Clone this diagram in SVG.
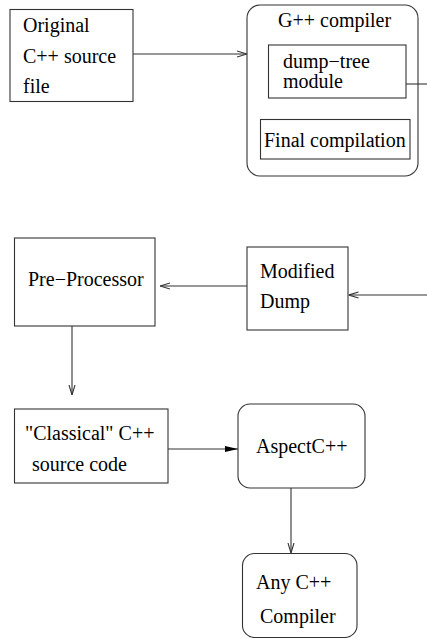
<svg xmlns="http://www.w3.org/2000/svg" width="427" height="638" viewBox="0 0 427 638">
<style>
.b{fill:#fff;stroke:#333;stroke-width:1.1}
.t{font-family:"Liberation Serif","Times New Roman",serif;font-size:20px;fill:#000}
.c{fill:none;stroke:#333;stroke-width:1.1}
</style>
<defs>
<marker id="open" viewBox="0 0 10 8" refX="10" refY="4" markerWidth="10" markerHeight="8" markerUnits="userSpaceOnUse" orient="auto">
<path d="M0,1 L10,4 L0,7" fill="none" stroke="#333" stroke-width="1.1"/>
</marker>
<marker id="fill" viewBox="0 0 13 8" refX="13" refY="4" markerWidth="13" markerHeight="8" markerUnits="userSpaceOnUse" orient="auto">
<path d="M0,1 L13,4 L0,7 Z" fill="#000"/>
</marker>
</defs>
<rect width="427" height="638" fill="#fff"/>
<g id="original">
<rect class="b" x="10" y="9.5" width="123" height="92"/>
<text class="t" x="23" y="32">Original</text>
<text class="t" x="23" y="63">C++ source</text>
<text class="t" x="23" y="93">file</text>
</g>
<g id="gpp">
<rect class="b" x="247" y="5" width="171" height="171" rx="13"/>
<text class="t" x="278" y="27">G++ compiler</text>
</g>
<g id="dumptree">
<rect class="b" x="268.5" y="45" width="137.5" height="53"/>
<text class="t" x="283" y="68">dump−tree</text>
<text class="t" x="283" y="88">module</text>
</g>
<g id="final">
<rect class="b" x="260.5" y="119.5" width="149.5" height="39.5"/>
<text class="t" x="264" y="147">Final compilation</text>
</g>
<g id="preprocessor">
<rect class="b" x="14.5" y="238" width="140.5" height="88"/>
<text class="t" x="28" y="286">Pre−Processor</text>
</g>
<g id="modified">
<rect class="b" x="247" y="247" width="101" height="83"/>
<text class="t" x="260" y="278">Modified</text>
<text class="t" x="260" y="308">Dump</text>
</g>
<g id="classical">
<rect class="b" x="14.5" y="409" width="153.5" height="74"/>
<text class="t" x="25" y="440">"Classical" C++</text>
<text class="t" x="32" y="471">source code</text>
</g>
<g id="aspectc">
<rect class="b" x="238" y="404" width="127" height="84" rx="12"/>
<text class="t" x="256" y="453">AspectC++</text>
</g>
<g id="anycpp">
<rect class="b" x="242.5" y="553.5" width="114.5" height="84" rx="12"/>
<text class="t" x="256" y="589">Any C++</text>
<text class="t" x="260" y="623">Compiler</text>
</g>
<g id="connectors">
<line class="c" x1="133" y1="54" x2="247" y2="54" marker-end="url(#open)"/>
<line class="c" x1="406" y1="84" x2="427" y2="84"/>
<line class="c" x1="427" y1="295" x2="348.5" y2="295" marker-end="url(#open)"/>
<line class="c" x1="247" y1="286" x2="160" y2="286" marker-end="url(#open)"/>
<line class="c" x1="72" y1="326" x2="72" y2="395" marker-end="url(#open)"/>
<line class="c" x1="168" y1="449" x2="238" y2="449" marker-end="url(#fill)"/>
<line class="c" x1="291" y1="488" x2="291" y2="553" marker-end="url(#open)"/>
</g>
</svg>
